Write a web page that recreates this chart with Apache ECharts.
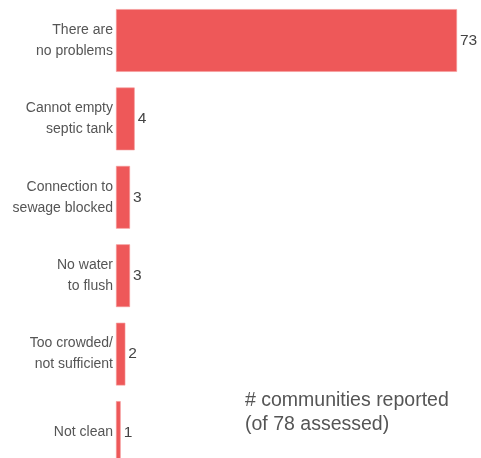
<!DOCTYPE html>
<html><head><meta charset="utf-8">
<script src="https://cdn.jsdelivr.net/npm/echarts@6/dist/echarts.min.js"></script>
<style>html,body{margin:0;padding:0;background:#fff}#c{width:481px;height:458px}</style>
</head><body><div id="c"></div>
<script>
const categories = ["There are\nno problems","Cannot empty\nseptic tank","Connection to\nsewage blocked","No water\nto flush","Too crowded/\nnot sufficient","Not clean"];
const values = [73,4,3,3,2,1];
const noteLines = ["# communities reported","(of 78 assessed)"];

const chart = echarts.init(document.getElementById('c'), null, {renderer:'canvas'});
chart.setOption({
  animation:false,
  grid:{left:116,right:24,top:1.3,height:470.4,containLabel:false,outerBoundsMode:'none'},
  xAxis:{type:'value',min:0,max:73,show:false},
  yAxis:{type:'category',data:categories,inverse:true,
    axisLine:{show:false},axisTick:{show:false},
    axisLabel:{margin:3,color:'#555',fontSize:14,fontFamily:'Liberation Sans, Arial, sans-serif',lineHeight:21,align:'right'}},
  series:[{type:'bar',data:values,barCategoryGap:'20%',
    itemStyle:{color:'#EE5859',borderColor:'#F59A9A',borderWidth:0.6},
    label:{show:true,position:'right',distance:3,color:'#444',fontSize:15.5,fontFamily:'Liberation Sans, Arial, sans-serif'}}],
  graphic:[{type:'text',left:245,top:389,style:{text:noteLines.join('\n'),fill:'#555',fontSize:19.5,lineHeight:24,fontFamily:'Liberation Sans, Arial, sans-serif'}}]
});
</script></body></html>
